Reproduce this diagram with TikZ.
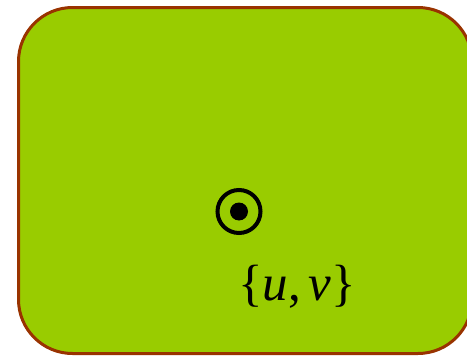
\documentclass[tikz,border=0pt]{standalone}
\usepackage{fontspec}
\setmainfont{Liberation Serif}
\definecolor{boxgreen}{HTML}{99CC00}
\definecolor{boxbrown}{HTML}{993300}
\tikzset{
  frame/.style={fill=boxgreen, draw=boxbrown, line width=3pt, rounded corners=54pt},
  ring/.style={circle, draw=black, line width=4pt, minimum size=43pt, inner sep=0pt},
  dot/.style={circle, fill=black, minimum size=18pt, inner sep=0pt},
  lab/.style={font=\fontsize{51}{58}\selectfont, inner sep=0pt, anchor=base}
}
\begin{document}
\begin{tikzpicture}[x=1pt,y=-1pt]
\useasboundingbox (0,0) rectangle (467,356);
\clip (0,0) rectangle (467,356);
\draw[frame] (18.5,7.5) rectangle (472,353.5);
\node[ring] (r) at (239,211.5) {};
\node[dot] (d) at (r.center) {};
\node[lab] (t) at (297,300) {\{\textit{u},\kern0.15em\textit{v}\}};
\end{tikzpicture}
\end{document}
